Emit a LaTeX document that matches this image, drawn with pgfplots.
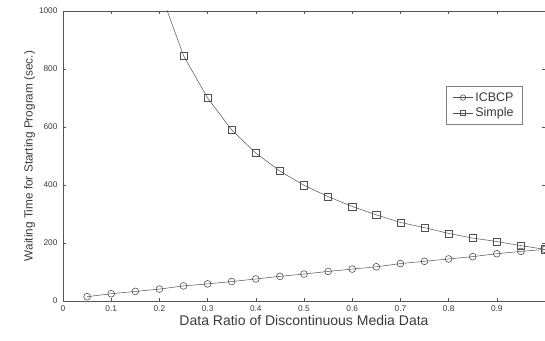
\documentclass[border=0pt]{standalone}
\usepackage{pgfplots}
\pgfplotsset{compat=1.18}
\usepackage{fontspec}
\setmainfont{Liberation Sans}
\definecolor{axgray}{HTML}{555555}
\definecolor{txtgray}{HTML}{3A3A3A}
\definecolor{linegray}{HTML}{505050}
\begin{document}
\begin{tikzpicture}
\begin{axis}[
  name=ax,
  scale only axis,
  width=482pt, height=290pt,
  xmin=0, xmax=1, ymin=0, ymax=1000,
  xtick={0,0.1,...,0.9},
  xticklabels={0,0.1,0.2,0.3,0.4,0.5,0.6,0.7,0.8,0.9},
  ytick={0,200,400,600,800,1000},
  yticklabels={0,200,400,600,800,1000},
  tick align=inside,
  major tick length=3pt,
  tick style={axgray, line width=0.6pt},
  axis line style={axgray, line width=0.8pt},
  ticklabel style={font=\fontsize{8.3}{9}\selectfont, text=txtgray},
  xticklabel style={yshift=-1pt},
  yticklabel style={xshift=-2pt},
  xlabel={Data Ratio of Discontinuous Media Data},
  ylabel={Waiting Time for Starting Program (sec.)},
  xlabel style={font=\fontsize{14}{15}\selectfont, text=txtgray, yshift=3pt},
  ylabel style={font=\fontsize{11.8}{13}\selectfont, text=txtgray, yshift=-3pt},
  legend style={at={(0.954,0.741)}, anchor=north east, draw=gray, line width=0.6pt,
    font=\fontsize{12.5}{13}\selectfont, text=txtgray, inner xsep=7pt, inner ysep=4pt, row sep=1pt},
  legend cell align=left,
  legend image code/.code={
    \draw[#1] (0pt,0pt) -- (20pt,0pt);
    \draw[#1, only marks, mark size=2.7pt] plot coordinates {(10pt,0pt)};
  },
  clip=true,
]
\addplot[linegray, line width=0.5pt, mark=o, mark size=3.4pt, mark options={solid, fill=none, line width=0.6pt}] coordinates {
(0.05,15) (0.1,25) (0.15,33) (0.2,41) (0.25,52) (0.3,59) (0.35,67) (0.4,76) (0.45,85) (0.5,93)
(0.55,102) (0.6,110) (0.65,118) (0.7,129) (0.75,137) (0.8,145) (0.85,153) (0.9,163) (0.95,171) (1.0,178)
};
\addlegendentry{ICBCP}
\addplot[linegray, line width=0.5pt, mark=square, mark size=3.6pt, mark options={solid, fill=none, line width=0.6pt}] coordinates {
(0.2,1075) (0.25,846) (0.3,700) (0.35,590) (0.4,510) (0.45,448) (0.5,399) (0.55,360) (0.6,326) (0.65,297)
(0.7,271) (0.75,253) (0.8,233) (0.85,217) (0.9,205) (0.95,191) (1.0,178)
};
\addlegendentry{Simple}
\end{axis}
\pgfresetboundingbox
\path[use as bounding box] ([shift={(-63pt,-39pt)}]ax.south west) rectangle ([shift={(0pt,11pt)}]ax.north east);
\end{tikzpicture}
\end{document}
